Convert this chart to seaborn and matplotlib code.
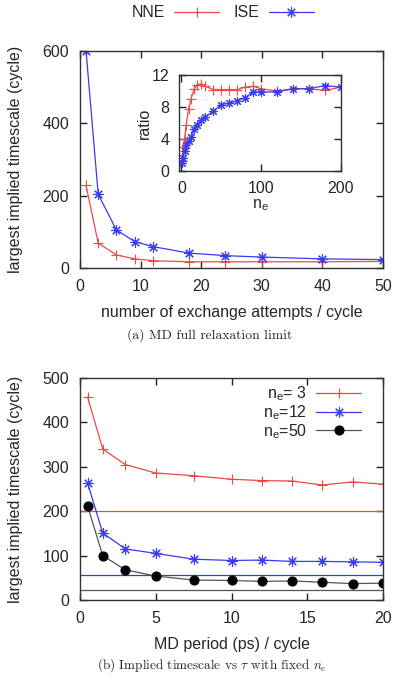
import matplotlib
matplotlib.use("Agg")
import matplotlib.pyplot as plt
import seaborn as sns
import numpy as np

# ---------------- data ----------------
# panel (a): main
attempts = [1, 3, 6, 9, 12, 18, 24, 30, 40, 50]
nne_ts = [228, 69, 36, 25, 20, 17, 17, 17, 17, 18]
ise_ts = [600, 204, 105, 73, 59, 41, 34, 30, 25, 23]

# panel (a): inset
ne = [1, 2, 4, 6, 9, 12, 16, 20, 25, 30, 40, 50, 60, 70, 80, 90, 100, 120, 140, 160, 180, 200]
nne_ratio = [1.3, 3.0, 4.0, 5.8, 7.8, 9.0, 10.3, 10.8, 10.9, 10.6, 10.2, 10.2, 10.2, 10.2,
             10.5, 10.6, 10.3, 10.0, 10.3, 10.3, 10.1, 10.5]
ise_ratio = [1.0, 1.6, 2.5, 3.2, 3.8, 4.2, 5.2, 5.8, 6.4, 6.8, 7.5, 8.3, 8.5, 8.8,
             9.2, 9.9, 9.9, 9.9, 10.3, 10.3, 10.7, 10.5]

# panel (b)
md_period = [0.5, 1.5, 3, 5, 7.5, 10, 12, 14, 16, 18, 20]
ne3_ts = [457, 340, 305, 286, 280, 272, 269, 268, 259, 266, 261]
ne12_ts = [264, 151, 115, 105, 92, 89, 90, 87, 87, 86, 85]
ne50_ts = [212, 100, 68, 54, 45, 44, 42, 43, 40, 37, 38]
ref_levels = [200, 57, 22]

series_labels = ["NNE", "ISE"]
ne_labels = [r"n$_\mathregular{e}$= 3", r"n$_\mathregular{e}$=12", r"n$_\mathregular{e}$=50"]

# ---------------- style ----------------
sns.set_style("ticks")
plt.rcParams["font.family"] = ["Liberation Sans", "DejaVu Sans"]
plt.rcParams["mathtext.fontset"] = "custom"
plt.rcParams["mathtext.rm"] = "Liberation Sans"
plt.rcParams["mathtext.it"] = "Liberation Sans:italic"
plt.rcParams["axes.edgecolor"] = "#333333"
plt.rcParams["axes.linewidth"] = 1.0

FS = 11.5
RED = "#f04848"
BLUE = "#3a3af0"
GRAY = "#555555"
STAR = (8, 2, 0)

fig = plt.figure(figsize=(4.0, 6.8), dpi=100)

def style_ticks(ax, pad=7):
    ax.tick_params(direction="in", top=True, right=True, length=5, width=1,
                   labelsize=FS, color="#222222", pad=pad)

def line(ax, x, y, color, marker, ms, label=None, mfc=None, mew=0.8):
    sns.lineplot(x=x, y=y, ax=ax, color=color, lw=0.9, marker=marker,
                 markersize=ms, markeredgewidth=mew,
                 markeredgecolor=(mfc if mfc else color),
                 markerfacecolor=(mfc if mfc else color),
                 label=label, legend=False)

# ---- panel (a) main ----
ax1 = fig.add_axes([0.2, 0.606, 0.7575, 0.319])
line(ax1, attempts, nne_ts, RED, "+", 7.5, series_labels[0])
line(ax1, attempts, ise_ts, BLUE, STAR, 7.5, series_labels[1])
ax1.set_xlim(0, 50)
ax1.set_ylim(0, 600)
ax1.set_xticks([0, 10, 20, 30, 40, 50])
ax1.set_yticks([0, 200, 400, 600])
style_ticks(ax1, pad=8)
ax1.set_xlabel("number of exchange attempts / cycle", fontsize=FS, labelpad=8)
ax1.set_ylabel("largest implied timescale (cycle)", fontsize=FS, labelpad=14)

h, l = ax1.get_legend_handles_labels()
fig.legend(h, l, loc="center", bbox_to_anchor=(0.556, 0.981), ncol=2, frameon=False,
           markerfirst=False, handlelength=2.8, columnspacing=0.9, handletextpad=0.6,
           fontsize=FS)

# ---- panel (a) inset ----
ax2 = fig.add_axes([0.4475, 0.7485, 0.405, 0.141])
line(ax2, ne, nne_ratio, RED, "+", 6.5)
line(ax2, ne, ise_ratio, BLUE, STAR, 6.5)
ax2.set_xlim(-3, 200)
ax2.set_ylim(0, 12)
ax2.set_xticks([0, 100, 200])
ax2.set_yticks([0, 4, 8, 12])
style_ticks(ax2, pad=7)
ax2.set_xlabel(r"n$_\mathregular{e}$", fontsize=FS, labelpad=1)
ax2.set_ylabel("ratio", fontsize=FS, labelpad=0)

fig.text(0.525, 0.507, "(a) MD full relaxation limit", ha="center", va="center",
         fontsize=9.8, family="cmr10")

# ---- panel (b) ----
ax3 = fig.add_axes([0.2, 0.1176, 0.7575, 0.3265])
for yv, c in zip(ref_levels, [RED, BLUE, GRAY]):
    ax3.axhline(yv, color=c, lw=0.9, zorder=1)
line(ax3, md_period, ne3_ts, RED, "+", 7.5, ne_labels[0])
line(ax3, md_period, ne12_ts, BLUE, STAR, 7.5, ne_labels[1])
line(ax3, md_period, ne50_ts, GRAY, "o", 6.5, ne_labels[2], mfc="black")
ax3.set_xlim(0, 20)
ax3.set_ylim(0, 500)
ax3.set_xticks([0, 5, 10, 15, 20])
ax3.set_yticks([0, 100, 200, 300, 400, 500])
style_ticks(ax3, pad=8)
ax3.set_xlabel("MD period (ps) / cycle", fontsize=FS, labelpad=8)
ax3.set_ylabel("largest implied timescale (cycle)", fontsize=FS, labelpad=14)
ax3.legend(loc="upper right", bbox_to_anchor=(0.975, 1.035), frameon=False,
           markerfirst=False, handlelength=2.8, handletextpad=0.6, labelspacing=0.0,
           fontsize=FS)

fig.text(0.53, 0.022, r"(b) Implied timescale vs $\tau$ with fixed $n_e$",
         ha="center", va="center", fontsize=9.5, family="cmr10",
         math_fontfamily="cm")

fig.savefig("out.png", dpi=100)
